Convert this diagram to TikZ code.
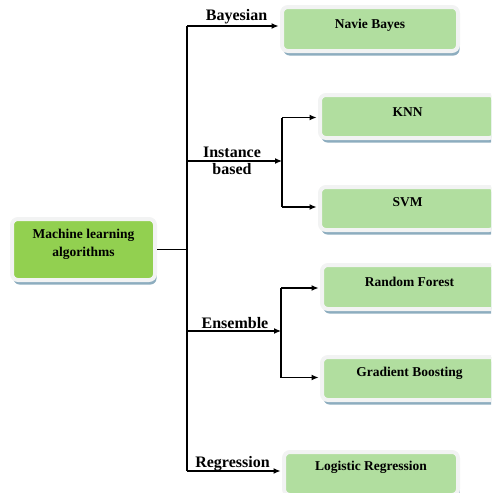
\documentclass[tikz,border=0pt]{standalone}
\usepackage{fontspec}
\setmainfont{Liberation Serif}
\usetikzlibrary{arrows.meta,shadows}

\definecolor{maingreen}{HTML}{92D050}
\definecolor{leafgreen}{HTML}{B1DE9F}
\definecolor{rim}{HTML}{F2F3F3}
\definecolor{shadowblue}{HTML}{8DADBF}

\tikzset{
  box/.style={rectangle, rounded corners=6pt, draw=rim, line width=4pt,
    fill=leafgreen, minimum width=#1, inner sep=0pt,
    drop shadow={shadow xshift=1.5pt, shadow yshift=-4.5pt, fill=shadowblue, opacity=1}},
  rootbox/.style={box=#1, fill=maingreen},
  boxtext/.style={font=\bfseries\fontsize{13.5}{16}\selectfont, inner sep=0pt, align=center},
  branchlabel/.style={font=\bfseries\fontsize{16}{17}\selectfont, inner sep=0pt, align=center},
  link/.style={line width=1.2pt, black},
  arrowlink/.style={link, -{Latex[length=7pt,width=6pt]}, shorten >=1.5pt},
}

\begin{document}
\begin{tikzpicture}[x=1pt, y=-1pt]
  \useasboundingbox (0,0) rectangle (491,493);
  \clip (0,0) rectangle (491,493);

  % root and leaf boxes
  \node[rootbox=143pt, minimum height=61pt] (root) at (83.5,249.5) {};
  \node[box=176pt, minimum height=44pt] (nb)  at (370,29)    {};
  \node[box=175pt, minimum height=43pt] (knn) at (407.5,116.5) {};
  \node[box=175pt, minimum height=43pt] (svm) at (407.5,208.5) {};
  \node[box=175pt, minimum height=44pt] (rf)  at (409.5,287)  {};
  \node[box=175pt, minimum height=43pt] (gb)  at (409.5,378.5) {};
  \node[box=174pt, minimum height=43pt] (lr)  at (371,473.5)  {};

  % box texts
  \node[boxtext] (troot) at (83.5,244) {Machine learning\\[2pt]algorithms};
  \node[boxtext] (tnb)  at (370,25)  {Navie Bayes};
  \node[boxtext] (tknn) at (407.5,112) {KNN};
  \node[boxtext] (tsvm) at (407.5,202) {SVM};
  \node[boxtext] (trf)  at (409.5,282) {Random Forest};
  \node[boxtext] (tgb)  at (409.5,373) {Gradient Boosting};
  \node[boxtext] (tlr)  at (371,467) {Logistic Regression};

  % branch labels
  \node[branchlabel] (lbay) at (236.5,17) {Bayesian};
  \node[branchlabel] (lins) at (232,161) {Instance\\based};
  \node[branchlabel] (lens) at (235,323) {Ensemble};
  \node[branchlabel] (lreg) at (232.5,464) {Regression};

  % trunk junctions
  \coordinate (jbay)  at (187,26);
  \coordinate (jroot) at (187,249.5);
  \coordinate (jins)  at (187,161);
  \coordinate (jens)  at (187,331);
  \coordinate (jreg)  at (187,471);

  % sub-branch junctions
  \coordinate (sins)  at (282,161);
  \coordinate (sknn)  at (282,117.5);
  \coordinate (ssvm)  at (282,207);
  \coordinate (sens)  at (281,331);
  \coordinate (srf)   at (281,288);
  \coordinate (sgb)   at (281,377.5);

  % connectors
  \draw[link] (root.east) -- (jroot);
  \draw[link] (jbay) -- (jreg);
  \draw[arrowlink] (jbay) -- (jbay -| nb.west);
  \draw[arrowlink, shorten >=0pt] (jins) -- (sins);
  \draw[link] (sknn) -- (ssvm);
  \draw[arrowlink] (sknn) -- (sknn -| knn.west);
  \draw[arrowlink] (ssvm) -- (ssvm -| svm.west);
  \draw[arrowlink, shorten >=0pt] (jens) -- (sens);
  \draw[link] (srf) -- (sgb);
  \draw[arrowlink] (srf) -- (srf -| rf.west);
  \draw[arrowlink] (sgb) -- (sgb -| gb.west);
  \draw[arrowlink] (jreg) -- (jreg -| lr.west);
\end{tikzpicture}
\end{document}
